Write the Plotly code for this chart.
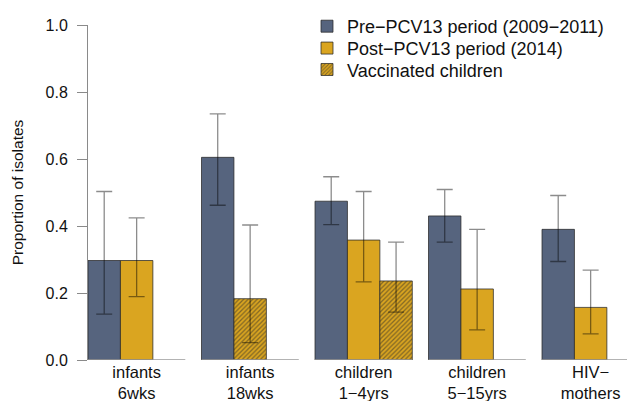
import plotly.graph_objects as go

# ---- data ----
categories = ["infants<br>6wks", "infants<br>18wks", "children<br>1\u22124yrs",
              "children<br>5\u221215yrs", "HIV\u2212<br>mothers"]
pre = [0.297, 0.605, 0.474, 0.430, 0.390]
pre_lo = [0.137, 0.462, 0.404, 0.352, 0.294]
pre_hi = [0.503, 0.735, 0.547, 0.509, 0.491]
post = [0.297, 0.183, 0.358, 0.212, 0.157]
post_lo = [0.189, 0.052, 0.233, 0.090, 0.078]
post_hi = [0.424, 0.403, 0.503, 0.390, 0.268]
post_vaccinated = [False, True, False, False, False]
vacc = [None, None, 0.236, None, None]
vacc_lo = [None, None, 0.143, None, None]
vacc_hi = [None, None, 0.352, None, None]
y_ticks = [0.0, 0.2, 0.4, 0.6, 0.8, 1.0]

# ---- styling / layout helpers ----
BLUE = "#56647E"
GOLD = "#DAA520"
ERR = "rgba(0,0,0,0.45)"
EDGE = "rgba(40,40,40,0.75)"
FONT = "Liberation Sans, Arial, Helvetica, sans-serif"
SPACE = 0.5          # gap between groups, in bar widths
NSLOT = 3
step = NSLOT + SPACE
starts = [i * step for i in range(len(categories))]
centers = [s + NSLOT / 2 for s in starts]


def slot_x(slot):
    return [s + slot + 0.5 for s in starts]


def errs(vals, lo, hi):
    plus = [None if v is None else h - v for v, h in zip(vals, hi)]
    minus = [None if v is None else v - l for v, l in zip(vals, lo)]
    return plus, minus


HATCH = dict(fillmode="overlay", fgcolor="#2a2a2a", size=3.2, solidity=0.4)

fig = go.Figure()

# baseline segments under each group
bx, by = [], []
for s in starts:
    bx += [s, s + NSLOT, None]
    by += [0, 0, None]
fig.add_trace(go.Scatter(x=bx, y=by, mode="lines", line=dict(color="#9a9a9a", width=1.5),
                         showlegend=False, hoverinfo="skip", cliponaxis=False))

ep, em = errs(pre, pre_lo, pre_hi)
fig.add_trace(go.Bar(
    x=slot_x(0), y=pre, width=1, name="Pre\u2212PCV13 period (2009\u22122011)",
    marker=dict(color=BLUE, line=dict(color=EDGE, width=1)),
    error_y=dict(type="data", array=ep, arrayminus=em, color=ERR, thickness=1.3, width=8),
    legend="legend"))

ep, em = errs(post, post_lo, post_hi)
fig.add_trace(go.Bar(
    x=slot_x(1), y=post, width=1, name="Post\u2212PCV13 period (2014)",
    marker=dict(color=GOLD, line=dict(color=EDGE, width=1),
                pattern=dict(shape=["/" if v else "" for v in post_vaccinated], **HATCH)),
    error_y=dict(type="data", array=ep, arrayminus=em, color=ERR, thickness=1.3, width=8),
    legend="legend2"))

ep, em = errs(vacc, vacc_lo, vacc_hi)
fig.add_trace(go.Bar(
    x=slot_x(2), y=vacc, width=1, name="Vaccinated children",
    marker=dict(color=GOLD, line=dict(color=EDGE, width=1),
                pattern=dict(shape="/", **HATCH)),
    error_y=dict(type="data", array=ep, arrayminus=em, color=ERR, thickness=1.3, width=8),
    legend="legend3"))

# page has an 8px body margin: figure is offset by 8px right and down
OFF = 8
W, H = 635 - OFF, 401 - OFF
ML, MR, MT, MB = 88 - OFF, 0, 16 - OFF, 41
pw = W - ML - MR
ph = H - MT - MB
bar_px = 454 / 14.0
x_max = pw / bar_px


def px_to_paper_x(px):
    return (px - OFF - ML) / pw


def py_to_paper_y(py):
    return 1 - (py - OFF - MT) / ph


leg_common = dict(font=dict(family=FONT, size=18, color="#111"), bgcolor="rgba(0,0,0,0)",
                  xanchor="left", yanchor="middle", borderwidth=0)

fig.update_layout(
    width=W, height=H,
    margin=dict(l=ML, r=MR, t=MT, b=MB),
    paper_bgcolor="white", plot_bgcolor="white",
    barmode="overlay",
    font=dict(family=FONT, size=16, color="#111"),
    xaxis=dict(range=[0, x_max], tickvals=centers, ticktext=categories,
               showgrid=False, zeroline=False, showline=False, ticks="",
               tickfont=dict(size=16.5)),
    yaxis=dict(range=[0, 1], tickvals=y_ticks, ticktext=[f"{v:.1f}" for v in y_ticks],
               showgrid=False, zeroline=False, showline=True, linecolor="#8a8a8a", linewidth=1,
               ticks="outside", ticklen=10, tickcolor="#8a8a8a", tickwidth=1,
               tickfont=dict(size=16), ticklabelstandoff=6,
               title=dict(text="Proportion of isolates", font=dict(size=15.5), standoff=18)),
    legend=dict(x=px_to_paper_x(307), y=py_to_paper_y(17.5), **leg_common),
    legend2=dict(x=px_to_paper_x(307), y=py_to_paper_y(40), **leg_common),
    legend3=dict(x=px_to_paper_x(307), y=py_to_paper_y(62), **leg_common),
)

fig.write_html("out.html")
